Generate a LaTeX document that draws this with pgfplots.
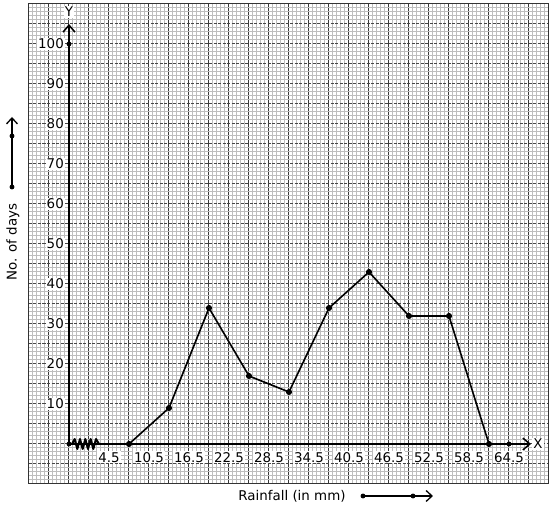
\documentclass[border=0pt]{standalone}
\usepackage{fontspec}
\setmainfont{DejaVu Sans}
\usepackage{pgfplots}
\pgfplotsset{compat=1.18}
\usetikzlibrary{arrows.meta}
\begin{document}
\begin{tikzpicture}[x=1pt,y=1pt]
\path[use as bounding box] (-29,-26) rectangle (525,484);
\begin{axis}[at={(0,0)}, anchor=south west, scale only axis,
  width=520pt, height=480pt,
  xmin=-7.5, xmax=70.5, ymin=-10, ymax=110,
  xtick={-7.5,-4.5,...,70.5}, ytick={-10,-5,...,110},
  minor x tick num=4, minor y tick num=4,
  grid=both, xticklabels={}, yticklabels={},
  major tick length=0pt, minor tick length=0pt, tick style={draw=none},
  minor grid style={draw=black!26, line width=1pt},
  major x grid style={draw=black!78, line width=1pt},
  major y grid style={draw=black!72, line width=1pt, dash pattern=on 3pt off 1.5pt},
  axis line style={draw=black!80, line width=1pt},
  clip=false,
  font=\fontsize{13.4}{15}\selectfont]
% axes
\draw[black, line width=2pt, -{Straight Barb[length=7pt,width=12pt,line width=1.5pt]}] (axis cs:-1.5,0) -- (axis cs:67.8,0);
\draw[black, line width=2pt, -{Straight Barb[length=7pt,width=12pt,line width=1.5pt]}] (axis cs:-1.5,0) -- (axis cs:-1.5,105);
% axis break zigzag
\draw[black, line width=2pt, line join=round] (axis cs:-1.05,0) -- (axis cs:-0.65,1.25) -- (axis cs:-0.25,-1.25) -- (axis cs:0.15,1.25) -- (axis cs:0.55,-1.25) -- (axis cs:0.95,1.25) -- (axis cs:1.35,-1.25) -- (axis cs:1.75,1.25) -- (axis cs:2.15,-1.25) -- (axis cs:2.55,1.25) -- (axis cs:3.0,0);
% tick labels
\node[fill=white, inner sep=1pt, anchor=east] at (axis cs:-2.1,100) {100};
\node[fill=white, inner sep=1pt, anchor=east] at (axis cs:-2.1,90) {90};
\node[fill=white, inner sep=1pt, anchor=east] at (axis cs:-2.1,80) {80};
\node[fill=white, inner sep=1pt, anchor=east] at (axis cs:-2.1,70) {70};
\node[fill=white, inner sep=1pt, anchor=east] at (axis cs:-2.1,60) {60};
\node[fill=white, inner sep=1pt, anchor=east] at (axis cs:-2.1,50) {50};
\node[fill=white, inner sep=1pt, anchor=east] at (axis cs:-2.1,40) {40};
\node[fill=white, inner sep=1pt, anchor=east] at (axis cs:-2.1,30) {30};
\node[fill=white, inner sep=1pt, anchor=east] at (axis cs:-2.1,20) {20};
\node[fill=white, inner sep=1pt, anchor=east] at (axis cs:-2.1,10) {10};
\node[fill=white, inner sep=1pt] at (axis cs:4.5,-3.35) {4.5};
\node[fill=white, inner sep=1pt] at (axis cs:10.5,-3.35) {10.5};
\node[fill=white, inner sep=1pt] at (axis cs:16.5,-3.35) {16.5};
\node[fill=white, inner sep=1pt] at (axis cs:22.5,-3.35) {22.5};
\node[fill=white, inner sep=1pt] at (axis cs:28.5,-3.35) {28.5};
\node[fill=white, inner sep=1pt] at (axis cs:34.5,-3.35) {34.5};
\node[fill=white, inner sep=1pt] at (axis cs:40.5,-3.35) {40.5};
\node[fill=white, inner sep=1pt] at (axis cs:46.5,-3.35) {46.5};
\node[fill=white, inner sep=1pt] at (axis cs:52.5,-3.35) {52.5};
\node[fill=white, inner sep=1pt] at (axis cs:58.5,-3.35) {58.5};
\node[fill=white, inner sep=1pt] at (axis cs:64.5,-3.35) {64.5};
\node[fill=white, inner sep=1pt] at (axis cs:68.85,0) {X};
\node[fill=white, inner sep=1pt] at (axis cs:-1.5,108) {Y};
% outside labels
\node[rotate=90] at (axis cs:-9.9,50.5) {No. of days};
\node at (axis cs:31.95,-13) {Rainfall (in mm)};
\draw[black, line width=1.5pt, -{Straight Barb[length=6pt,width=11pt,line width=1.3pt]}] (axis cs:-10.05,64.25) -- (axis cs:-10.05,81.75);
\draw[black, line width=1.5pt, -{Straight Barb[length=6pt,width=11pt,line width=1.3pt]}] (axis cs:42.6,-13) -- (axis cs:53.1,-13);
\addplot[only marks, mark=*, mark size=2.2pt, black] coordinates {(-10.05,64.25) (-10.05,77) (42.6,-13) (50.1,-13)};
% axis dots
\addplot[only marks, mark=*, mark size=2.2pt, black] coordinates {(-1.5,0) (-1.5,100) (64.5,0)};
% frequency polygon
\addplot[black, line width=1.6pt, mark=*, mark size=2.2pt] coordinates {
(7.5,0) (13.5,9) (19.5,34) (25.5,17) (31.5,13) (37.5,34) (43.5,43) (49.5,32) (55.5,32) (61.5,0)};
\end{axis}
\end{tikzpicture}
\end{document}
